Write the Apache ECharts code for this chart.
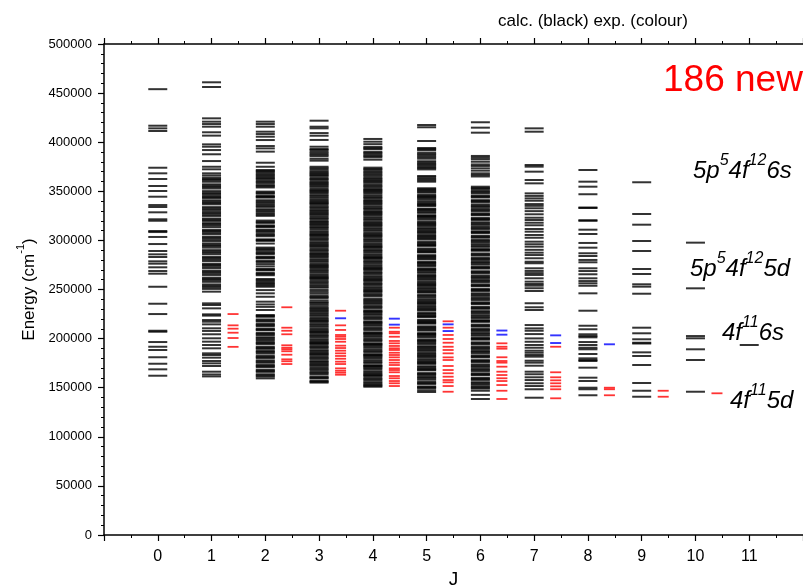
<!DOCTYPE html>
<html><head><meta charset="utf-8">
<script src="https://cdn.jsdelivr.net/npm/echarts@6/dist/echarts.min.js"></script>
<style>html,body{margin:0;padding:0;background:#fff}#c{width:803px;height:588px}</style>
</head><body><div id="c"></div>
<script>
// Energies in units of 1000 cm^-1
const jValues = [0,1,2,3,4,5,6,7,8,9,10,11];
const xTickLabels = ['0','1','2','3','4','5','6','7','8','9','10','11'];
const yTicks = [0,50000,100000,150000,200000,250000,300000,350000,400000,450000,500000];

const calcJ0 = [454, 416.8, 414.1, 411.4, 374, 368.3, 362.5, 355.4, 350.3, 344.5, 336, 334, 328.6, 321.5, 320, 309.6, 308.5, 303.5, 296.3, 289.2, 285.8, 283.1, 278.7, 276.3, 272.6, 268.8, 266.1, 252.8, 235.5, 225, 208, 207, 196.5, 191.7, 188.4, 181, 174.4, 168.7, 162.2];
const calcJ1 = [461, 456.2, 424.3, 420.9, 418.5, 415.8, 410.1, 406.7, 397.8, 395.4, 392, 387.7, 380.8, 375, 372.4, 368.3, 366.2, 364, 361.3, 359.7, 357.1, 354.4, 352.8, 350.2, 347.3, 345.6, 343, 340.8, 338.1, 336.7, 333.9, 331.2, 329.5, 326.4, 324.9, 322.3, 319.8, 317.6, 315.1, 313.4, 310.7, 308.2, 306.5, 303.9, 301.1, 299.4, 297, 294.3, 292.6, 290.1, 287.4, 285.8, 283.1, 280.5, 278.9, 276.2, 273.7, 271.9, 269.3, 266.6, 264.8, 262.1, 259.5, 257.8, 255.2, 252.4, 250.6, 247.8, 235.9, 234.2, 230.8, 224.7, 223.4, 218.9, 217.2, 214.5, 210.5, 207.8, 204.4, 200.3, 196.9, 193.5, 190.1, 185, 183.3, 180.6, 177.2, 174.8, 172.1, 166.3, 163.5, 161.5,
  362.5, 355.8, 348.6, 344.2, 339.5, 332.5, 327.9, 321.1, 316.4, 309.5, 302.6, 295.6, 288.7, 281.8, 275, 268, 260.8, 253.8];
const calcJ2 = [420.9, 418.5, 415.8, 410.7, 408.3, 405.6, 402.2, 396.1, 393.7, 390.4, 379.1, 375, 371.7, 369.4, 367.8, 365.1, 362.6, 360.9, 358.2, 356.3, 353.9, 349.7, 347.5, 345.2, 343.6, 340.9, 338.3, 336.7, 334.1, 331.8, 329.2, 327.5, 325, 320.2, 317.8, 315.3, 313.6, 311, 308.7, 306.9, 304.2, 301.1, 299.5, 296.8, 292.7, 290.3, 288.6, 286, 283.4, 281.7, 279.2, 275.9, 273.6, 271.1, 269.4, 266.8, 264.5, 260.7, 258.2, 256.6, 254.1, 252.8, 249.4, 246.1, 242.6, 237.6, 234.8, 232.3, 229.1, 224, 222.2, 219.5, 217.3, 214.9, 212.6, 210.1, 208.4, 205.7, 203.3, 201.2, 198.6, 196.8, 194.3, 191.7, 189.5, 187.4, 184.9, 182.6, 180.1, 177.8, 175.4, 173.2, 170.9, 168.3, 166.1, 163.7, 161.4, 159.5,
  370.5, 366.4, 363.8, 359.6, 355.1, 348.6, 344.4, 339.6, 335.4, 330.5, 326.3, 318.9, 314.4, 309.9, 305.5, 300.3, 291.5, 287.2, 282.5, 278, 270.2, 265.6, 259.4, 255.3, 223.1, 218.4, 213.7, 209.2, 204.5, 200.2, 195.5, 190.6, 186.2, 181.3, 176.6, 172, 167.2, 162.5];
const calcJ3 = [421.9, 415.8, 414.1, 409.3, 406.6, 402.3, 395.4, 393.1, 390.2, 388.6, 385.7, 383.1, 381.2, 375, 372.1, 370.4, 368, 365.7, 363.9, 361.2, 359.5, 357.1, 354.6, 352.8, 350.3, 347.9, 346.1, 343.4, 341.7, 339.2, 337, 335.3, 332.6, 330.9, 328.4, 326.1, 324.5, 321.8, 319.9, 317.4, 315.2, 313.6, 310.9, 309.1, 306.5, 304.3, 302.7, 300, 298.2, 295.7, 293.5, 291.8, 289.1, 287.3, 284.9, 282.6, 280.8, 278.2, 276.4, 273.9, 271.6, 269.9, 267.2, 265.4, 262.8, 260.6, 258.9, 256.1, 254.4, 251.8, 249.5, 245.8, 243.7, 241.2, 238.9, 237.1, 234.4, 232.6, 229.8, 227.5, 225.9, 223.2, 221.4, 218.7, 216.6, 214.8, 212.1, 210.3, 207.6, 205.5, 203.7, 201.1, 199.3, 196.6, 194.5, 192.8, 190.1, 188.2, 185.6, 183.4, 181.7, 179, 177.1, 174.6, 172.3, 170.6, 167.9, 166.1, 163.5, 161.2, 159.4, 157, 155.2,
  392, 387.2, 373.5, 369.1, 366.8, 362.5, 358.2, 355.9, 351.5, 349, 344.8, 340.5, 338, 333.8, 329.6, 327.2, 323.1, 318.7, 316.3, 312.4, 308, 305.4, 301.3, 296.9, 294.6, 290.4, 286.1, 283.7, 279.5, 275.1, 272.7, 268.5, 264.1, 261.7, 257.4, 253, 247.6, 242.4, 236, 231.1, 228.6, 224.5, 220.1, 217.8, 213.4, 209, 206.6, 202.4, 198, 195.5, 191.4, 187, 184.5, 180.4, 176, 173.5, 169.3, 164.8, 160.2, 156.1];
const calcJ4 = [403.3, 400.5, 395.2, 392.8, 390.1, 387.4, 384.6, 382.2, 374.1, 371.3, 368.2, 365.4, 363.6, 361, 358.7, 356.9, 354.2, 352.5, 350.1, 347.7, 345.9, 343.2, 341.4, 338.8, 336.5, 334.7, 332, 330.2, 327.7, 325.4, 323.6, 320.9, 319.1, 316.5, 314.3, 312.5, 309.8, 308, 305.4, 303.1, 301.3, 298.7, 296.9, 294.2, 292, 290.2, 287.6, 285.8, 283.1, 280.9, 279.1, 276.4, 274.7, 272, 269.8, 268, 265.3, 263.5, 260.9, 258.6, 256.8, 254.2, 252.4, 249.7, 247.5, 245.7, 243, 240.6, 237.9, 235.4, 233.6, 230.8, 228.7, 226.9, 224.2, 222.4, 219.7, 217.5, 215.7, 213.1, 211.2, 208.6, 206.4, 204.6, 201.9, 200.1, 197.5, 195.3, 193.5, 190.8, 189, 186.3, 184.2, 182.4, 179.7, 177.9, 175.2, 173, 171.3, 168.6, 166.7, 164.1, 161.9, 160.1, 157.4, 155.6, 153, 151,
  398, 393.9, 388.8, 385.9, 372.7, 369.7, 366.9, 362.3, 360, 355.6, 351.3, 349, 344.5, 340.1, 337.7, 333.3, 328.9, 326.6, 322.2, 317.8, 315.4, 311.1, 306.7, 304.3, 300, 295.6, 293.2, 288.9, 284.5, 282.1, 277.8, 273.3, 271, 266.7, 262.2, 259.8, 255.5, 251, 248.6, 244.3, 239.2, 236.7, 232.2, 227.8, 225.5, 221.1, 216.6, 214.4, 210, 205.5, 203.2, 198.8, 194.4, 192.1, 187.6, 183.2, 181, 176.5, 172.1, 169.9, 165.4, 162.9, 158.7, 154.3, 152];
const calcJ5 = [417.5, 415.2, 401.2, 394.1, 391.8, 389.3, 386.4, 383.2, 380.6, 377.9, 375.1, 372.3, 365.6, 362.7, 359.8, 353.1, 351, 348.7, 346.5, 344.2, 341.6, 339.8, 337.1, 335, 332.4, 330.6, 328, 325.7, 323.9, 321.2, 319.1, 316.8, 314.3, 312.5, 309.9, 307.6, 305.8, 303.2, 301, 298.7, 296.1, 294.4, 291.8, 289.5, 287.7, 285, 282.9, 280.6, 278.1, 276.3, 273.6, 271.4, 269.6, 266.9, 264.8, 262.5, 260, 258.2, 255.5, 253.3, 251.5, 248.8, 246.7, 244.4, 241.8, 240, 237.4, 235.1, 233.3, 230.6, 228.5, 226.2, 223.7, 221.9, 219.2, 217, 215.2, 212.5, 210.4, 208.1, 205.6, 203.8, 201.1, 198.9, 197.1, 194.4, 192.3, 190, 187.5, 185.7, 183, 180.8, 179, 176.3, 174.2, 171.9, 169.4, 167.6, 164.9, 162.7, 160.9, 158.2, 156.1, 153.8, 151.3, 149.5, 147.4, 145.6,
  392.9, 387.8, 384.8, 379.3, 376.5, 373.7, 364.2, 361.2, 352, 349.8, 345.3, 343, 338.4, 336.1, 331.5, 329.3, 324.8, 322.6, 317.9, 315.6, 311.3, 308.8, 304.5, 302.1, 297.4, 295.2, 290.6, 288.4, 283.9, 281.7, 277.2, 274.9, 270.5, 268.3, 263.6, 261.2, 256.8, 254.4, 250.1, 247.7, 243.1, 238.7, 236.2, 231.9, 229.6, 225.1, 222.8, 218.1, 216.1, 211.4, 209.2, 204.7, 202.5, 198, 195.8, 191.2, 188.8, 184.4, 182, 177.6, 175.3, 170.7, 168.5, 163.8, 159.6, 154.9, 150.4];
const calcJ6 = [420.3, 414.8, 409.7, 386, 382.6, 380.1, 375.8, 371, 368.3, 365.1, 354.7, 352.2, 350.4, 347.8, 345.5, 343.7, 341, 338.9, 336.6, 334.1, 332.3, 329.6, 327.4, 325.6, 322.9, 320.8, 318.5, 316, 314.2, 311.5, 309.3, 307.5, 304.8, 302.7, 300.4, 297.9, 296.1, 293.4, 291.2, 289.4, 286.7, 284.6, 282.3, 279.8, 278, 275.3, 273.1, 271.3, 268.6, 266.5, 264.2, 261.7, 259.9, 257.2, 255, 253.2, 250.5, 248.4, 246.1, 243.6, 241.8, 239.1, 236.9, 235.1, 232.4, 230.3, 228, 225.5, 223.7, 221, 218.8, 217, 214.3, 212.2, 209.9, 207.4, 205.6, 202.9, 200.7, 198.9, 196.2, 194.1, 191.8, 189.3, 187.5, 184.8, 182.6, 180.8, 178.1, 176, 173.7, 171.2, 169.4, 166.7, 164.5, 162.7, 160, 157.9, 155.6, 153.1, 151.3, 149.1, 146.9, 142.7, 138.5,
  384.3, 377.4, 373.4, 366.7, 353.4, 349.1, 344.6, 340, 335.3, 330.9, 326.5, 321.8, 317.2, 312.8, 308.4, 303.7, 299.1, 294.7, 290.3, 285.6, 281.1, 276.7, 272.2, 267.6, 263, 258.6, 254.1, 249.5, 244.9, 240.5, 236, 231.3, 226.8, 222.4, 218, 213.2, 208.7, 204.3, 199.8, 195.2, 190.6, 186.3, 181.8, 177.1, 172.5, 168.1, 163.6, 159, 154.4, 150.2];
const calcJ7 = [414.1, 410.7, 376.8, 375.1, 370, 361.5, 358.1, 347.9, 345.3, 342.8, 340.4, 337, 335.2, 332.7, 329.8, 326.6, 323.1, 320.8, 318, 315.4, 311.6, 308.9, 305.5, 302.7, 298.7, 296.1, 293.6, 290.4, 287.5, 285.1, 281.8, 278.3, 276.7, 271.6, 268.9, 266.7, 264.8, 261.4, 258, 255.6, 253.9, 251.3, 248.5, 236, 231.9, 229.1, 213.8, 210.4, 208, 204.6, 200.2, 196.8, 193.5, 190.7, 187.7, 185.6, 183.3, 181.6, 177.5, 175.5, 172.4, 166.3, 163.7, 160.6, 157.8, 154.5, 151.7, 148.4, 139.8];
const calcJ8 = [371.7, 359.8, 354.7, 347, 333.5, 333, 320.5, 320, 310.9, 306.5, 297.4, 292.6, 286.9, 284.1, 280.1, 277.7, 271.6, 268.8, 265.5, 261.4, 258.6, 256.3, 253.8, 246.1, 228.4, 213.1, 209.5, 204.4, 202.6, 201.3, 196.5, 193.5, 190.7, 189.1, 184.3, 179.9, 178.2, 177.2, 170.4, 160.2, 156.8, 150, 148.4, 142.3];
const calcJ9 = [359.2, 326.9, 316, 299.4, 289.2, 270.9, 265.8, 255.3, 252.9, 245.7, 211.1, 205.4, 199.3, 195.8, 195, 186, 182.3, 173.1, 154.8, 146.9, 140.8];
const calcJ10 = [297.7, 251.2, 202.6, 200.3, 189.1, 178.2, 145.9];
const calcJ11 = [193.5];

const expRedJ1 = [225, 213.5, 210.1, 206, 200.6, 191.6];
const expRedJ2 = [231.9, 211.1, 208, 204.4, 193.2, 190.7, 189.1, 187.1, 183.6, 178.9, 176.9, 174.1];
const expRedJ3 = [228.4, 213.5, 208.8, 203.7, 201.9, 199.6, 196.8, 192.8, 190.4, 187.7, 185, 182.3, 179.5, 176.5, 174.1, 169.7, 167.3, 165.3, 163.2];
const expRedJ4 = [211.1, 207, 205.4, 201.9, 197.6, 195.2, 192.5, 190.1, 188.4, 185.6, 183.3, 180.9, 178.2, 175.5, 173.1, 169.7, 168, 165.7, 161.9, 159.6, 156.8, 154.5, 151.7];
const expRedJ5 = [217.6, 211.1, 203.7, 199.6, 195.8, 191.7, 188.4, 185, 180.9, 178.2, 172.1, 168, 164.7, 161.2, 157.8, 155.5, 151.7, 145.9];
const expRedJ6 = [195.2, 191.7, 189.7, 181, 177.2, 175.5, 171.4, 166.3, 162.9, 159.6, 156.8, 152.7, 146.9, 138.5];
const expRedJ7 = [191.7, 165.7, 160.6, 157.5, 154.5, 151.4, 148.4, 139.2];
const expRedJ8 = [150, 148.4, 142.3];
const expRedJ9 = [146.9, 140.8];
const expRedJ10 = [144.3];

const expBlueJ3 = [220.7];
const expBlueJ4 = [220.3, 214.2];
const expBlueJ5 = [214.5, 207.7];
const expBlueJ6 = [208.2, 204];
const expBlueJ7 = [203.3, 195.5];
const expBlueJ8 = [194.2];

const calcAll = [calcJ0, calcJ1, calcJ2, calcJ3, calcJ4, calcJ5, calcJ6, calcJ7, calcJ8, calcJ9, calcJ10, calcJ11];
const redAll = [[], expRedJ1, expRedJ2, expRedJ3, expRedJ4, expRedJ5, expRedJ6, expRedJ7, expRedJ8, expRedJ9, expRedJ10, []];
const blueAll = [[], [], [], expBlueJ3, expBlueJ4, expBlueJ5, expBlueJ6, expBlueJ7, expBlueJ8, [], [], []];

const UNIT = 1000;
const EXP_OFFSET = 0.4;
const toPts = (groups, off) => groups.flatMap((arr, i) => arr.map(e => [jValues[i] + off, e * UNIT]));

const chart = echarts.init(document.getElementById('c'), null, {renderer: 'canvas'});
const FONT = 'Liberation Sans, Arial, Helvetica, sans-serif';
const supRich = (color) => ({
  b: {fontSize: 24, fontStyle: 'italic', fontFamily: FONT, color: color, lineHeight: 30, verticalAlign: 'bottom'},
  s: {fontSize: 16, fontStyle: 'italic', fontFamily: FONT, color: color, lineHeight: 10, verticalAlign: 'top'}
});

chart.setOption({
  animation: false,
  backgroundColor: '#fff',
  grid: {left: 104, right: 0, top: 44, bottom: 53, containLabel: false, outerBoundsMode: 'none'},
  xAxis: [{
    type: 'value', min: -1, max: 12, interval: 1, position: 'bottom',
    axisLine: {onZero: false, lineStyle: {color: '#000', width: 1.5}},
    axisTick: {length: 6, lineStyle: {color: '#000', width: 1.2}},
    minorTick: {show: true, splitNumber: 2, length: 3, lineStyle: {color: '#000'}},
    splitLine: {show: false},
    axisLabel: {color: '#000', fontSize: 16, fontFamily: FONT, margin: 14,
      formatter: v => (v >= 0 && v <= 11) ? xTickLabels[v] : ''},
    name: 'J', nameLocation: 'middle', nameGap: 34,
    nameTextStyle: {color: '#000', fontSize: 19, fontFamily: FONT}
  }, {
    type: 'value', min: -1, max: 12, interval: 1, position: 'top',
    axisLine: {onZero: false, lineStyle: {color: '#000', width: 1.5}},
    axisTick: {length: 6, lineStyle: {color: '#000', width: 1.2}},
    minorTick: {show: true, splitNumber: 2, length: 3, lineStyle: {color: '#000'}},
    splitLine: {show: false}, axisLabel: {show: false}
  }],
  yAxis: {
    type: 'value', min: 0, max: 500000, interval: 50000,
    axisLine: {onZero: false, lineStyle: {color: '#000', width: 1.5}},
    axisTick: {length: 6, lineStyle: {color: '#000', width: 1.2}},
    minorTick: {show: true, splitNumber: 5, length: 3, lineStyle: {color: '#000'}},
    splitLine: {show: false},
    axisLabel: {color: '#000', fontSize: 13, fontFamily: FONT, margin: 12,
      formatter: v => yTicks.includes(v) ? String(v) : ''},
    name: '{a|Energy (cm}{s|-1}{a|)}', nameLocation: 'middle', nameGap: 62,
    nameTextStyle: {rich: {
      a: {fontSize: 17, fontFamily: FONT, color: '#000', lineHeight: 22, verticalAlign: 'bottom'},
      s: {fontSize: 11, fontFamily: FONT, color: '#000', lineHeight: 10, verticalAlign: 'top'}
    }}
  },
  series: [
    {type: 'scatter', name: 'calc', symbol: 'rect', symbolSize: [19, 2],
     itemStyle: {color: '#000'}, data: toPts(calcAll, 0), silent: true},
    {type: 'scatter', name: 'expRed', symbol: 'rect', symbolSize: [11, 1.8],
     itemStyle: {color: '#ff0000'}, data: toPts(redAll, EXP_OFFSET), silent: true},
    {type: 'scatter', name: 'expBlue', symbol: 'rect', symbolSize: [11, 1.9],
     itemStyle: {color: '#0000ff'}, data: toPts(blueAll, EXP_OFFSET), silent: true}
  ],
  graphic: [
    {type: 'text', left: 498, top: 13, style: {text: 'calc. (black) exp. (colour)', fontSize: 17, fontFamily: FONT, fill: '#000'}},
    {type: 'text', left: 663, top: 62, style: {text: '186 new', fontSize: 37, fontFamily: FONT, fill: '#ff0000'}},
    {type: 'text', left: 693, top: 153, style: {text: '{b|5p}{s|5}{b|4f}{s|12}{b|6s}', rich: supRich('#000')}},
    {type: 'text', left: 690, top: 251, style: {text: '{b|5p}{s|5}{b|4f}{s|12}{b|5d}', rich: supRich('#000')}},
    {type: 'text', left: 722, top: 315, style: {text: '{b|4f}{s|11}{b|6s}', rich: supRich('#0000ff')}},
    {type: 'text', left: 730, top: 383, style: {text: '{b|4f}{s|11}{b|5d}', rich: supRich('#ff0000')}}
  ]
});
</script></body></html>
